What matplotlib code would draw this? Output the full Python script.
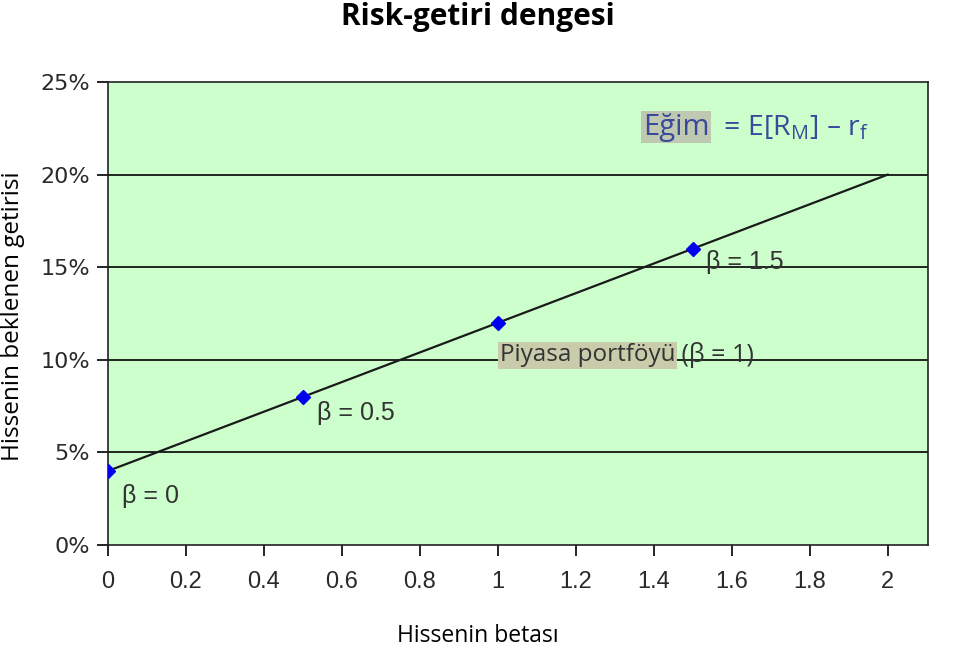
import matplotlib.pyplot as plt
import numpy as np

# data
betas = [0, 0.5, 1, 1.5]
returns = [0.04, 0.08, 0.12, 0.16]
line_x = [0, 2]
line_y = [0.04, 0.20]
xticks = [0, 0.2, 0.4, 0.6, 0.8, 1, 1.2, 1.4, 1.6, 1.8, 2]
xtick_labels = ['0', '0.2', '0.4', '0.6', '0.8', '1', '1.2', '1.4', '1.6', '1.8', '2']
yticks = [0, 0.05, 0.10, 0.15, 0.20, 0.25]
ytick_labels = ['0%', '5%', '10%', '15%', '20%', '25%']

fig = plt.figure(figsize=(9.6, 6.46), dpi=100)
ax = fig.add_axes([0.1125, 0.1563, 0.854, 0.7167])
ax.set_facecolor('#ccffcc')

for y in yticks[1:-1]:
    ax.axhline(y, color='black', lw=1.2, zorder=1)

ax.plot(line_x, line_y, color='#1a1a1a', lw=1.6, zorder=2)
ax.plot(betas, returns, ls='none', marker='D', ms=7, color='#0000ee', zorder=3)

ax.set_xlim(0, 2.103)
ax.set_ylim(0, 0.25)
ax.set_xticks(xticks)
ax.set_xticklabels(xtick_labels, family='Liberation Sans', fontsize=17, color='#2a2a2a')
ax.set_yticks(yticks)
ax.set_yticklabels(ytick_labels, family='DejaVu Sans', fontsize=16, color='#2a2a2a')
ax.tick_params(direction='out', length=8, width=1.2)
ax.tick_params(axis='x', pad=11)
ax.tick_params(axis='y', pad=5)
for s in ax.spines.values():
    s.set_linewidth(1.2)
    s.set_color('#222222')

lbl = dict(family='Liberation Sans', fontsize=18, color='#333333')
ax.text(0.035, 0.0265, 'β = 0', va='center', **lbl)
ax.text(0.535, 0.0715, 'β = 0.5', va='center', **lbl)
ax.text(1.535, 0.153, 'β = 1.5', va='center', **lbl)

t = ax.text(1.005, 0.1025, 'Piyasa portföyü', va='center', family='Open Sans', fontsize=17.5,
            color='#333333')
t.set_bbox(dict(facecolor='#c8ccaa', edgecolor='none', pad=1))
ax.annotate(' (β = 1)', xy=(1, 0.5), xycoords=t, va='center', family='Open Sans',
            fontsize=18, color='#333333')

e = ax.text(1.372, 0.2255, 'Eğim', va='center', family='Open Sans', fontsize=21,
            color='#3a4a9a')
e.set_bbox(dict(facecolor='#bfc8b0', edgecolor='none', pad=1))
ax.annotate(r'  = E[R$_\mathregular{M}$] – r$_\mathregular{f}$', xy=(1, 0.5), xycoords=e,
            va='center', family='Open Sans', fontsize=20.5, color='#3a4a9a')

fig.text(0.498, 0.974, 'Risk-getiri dengesi', ha='center', va='center', family='Open Sans',
         fontsize=21.5, fontweight='bold')
fig.text(0.498, 0.016, 'Hissenin betası', ha='center', va='center', family='Open Sans',
         fontsize=16.5)
fig.text(0.014, 0.51, 'Hissenin beklenen getirisi', ha='center', va='center', rotation=90,
         family='Open Sans', fontsize=17.5)

fig.savefig('out.png', dpi=100)
